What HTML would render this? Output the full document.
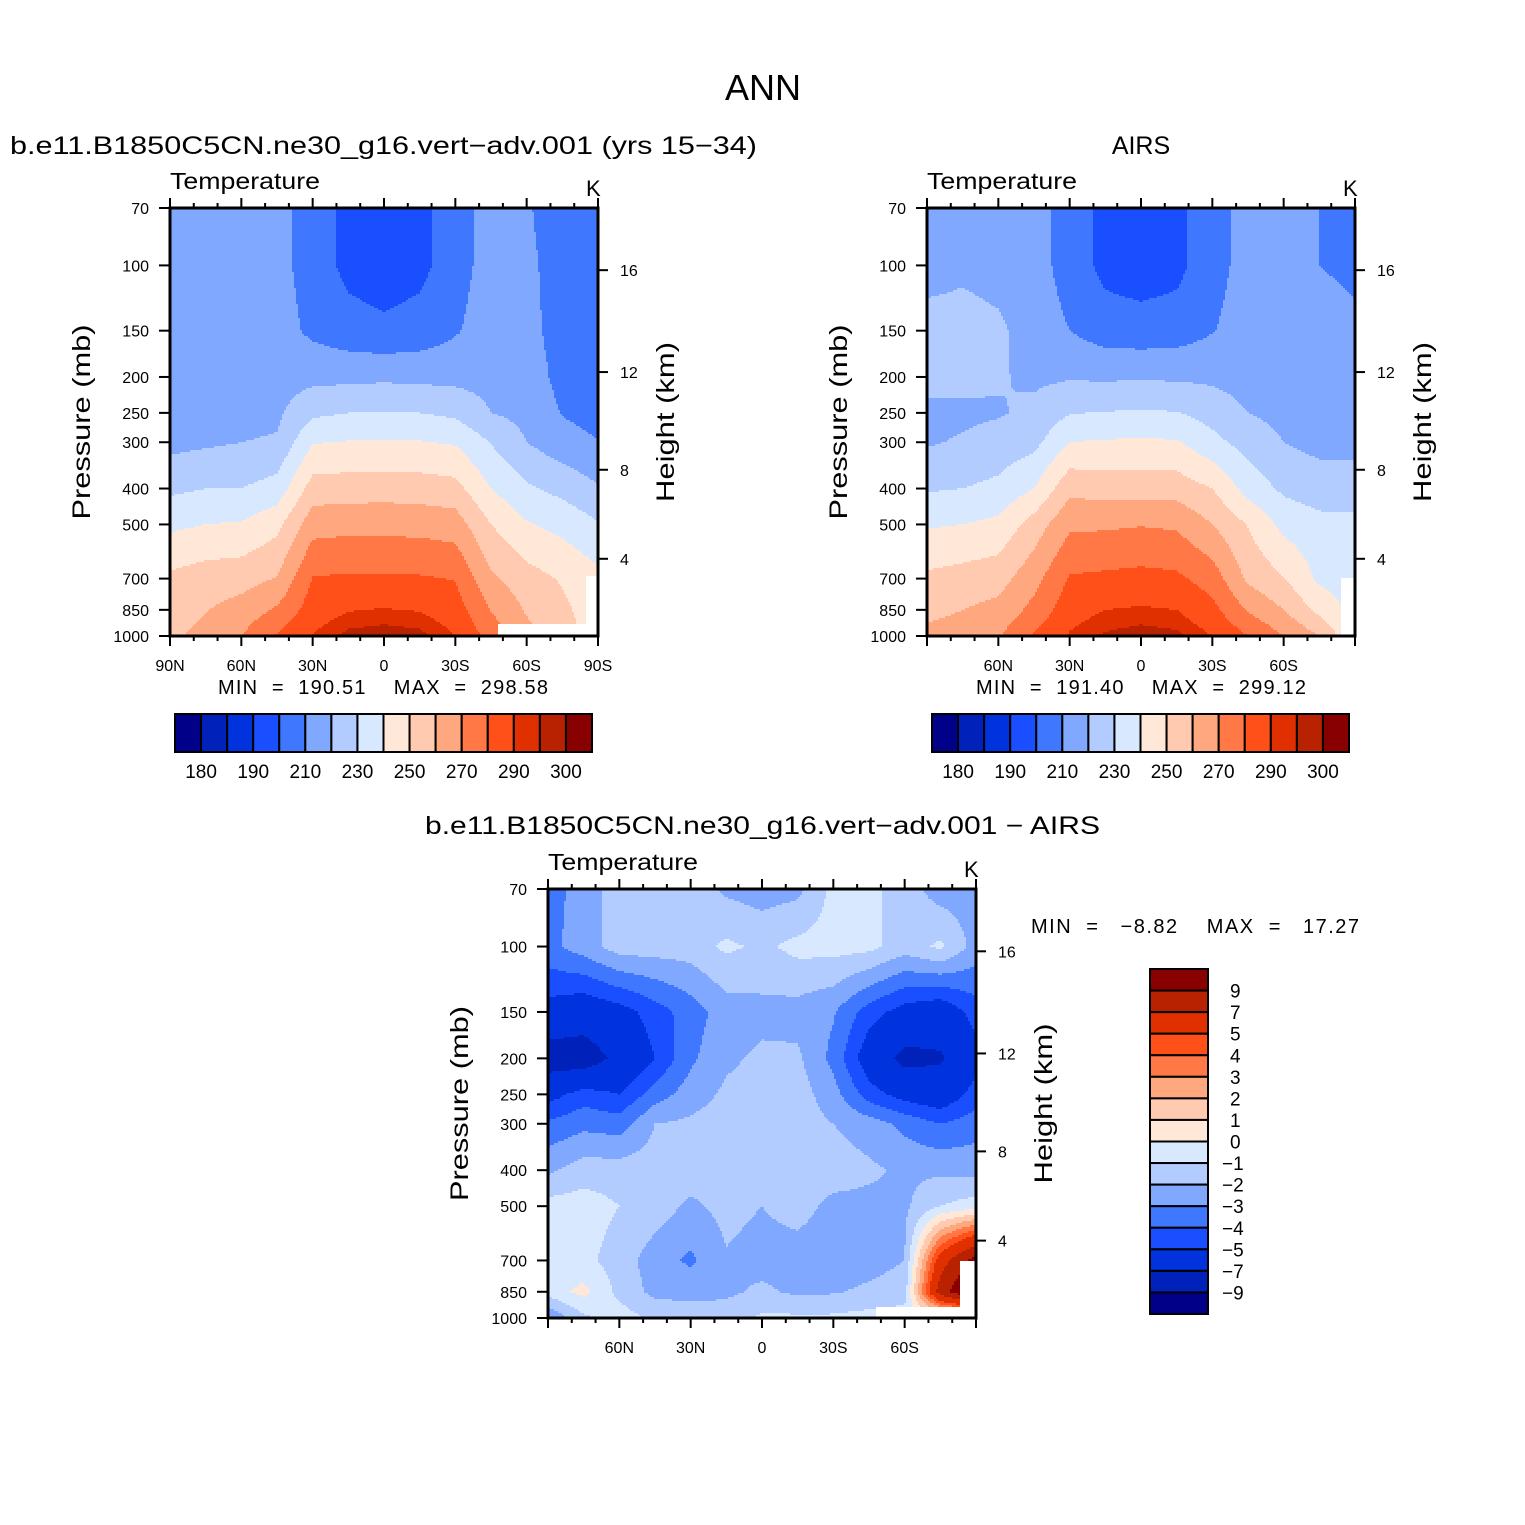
<!DOCTYPE html>
<html><head><meta charset="utf-8"><title>ANN Temperature</title>
<style>
html,body{margin:0;padding:0;background:#fff;}
svg{display:block;font-family:"Liberation Sans",sans-serif;}
.pre{white-space:pre;}
</style></head>
<body>
<svg id="fig" width="1525" height="1525" viewBox="0 0 1525 1525" xmlns="http://www.w3.org/2000/svg">
<rect x="0" y="0" width="1525" height="1525" fill="#fff"/>
<text x="763" y="100" font-size="36" text-anchor="middle">ANN</text>
<text x="10" y="154" font-size="25" textLength="747" lengthAdjust="spacingAndGlyphs">b.e11.B1850C5CN.ne30_g16.vert−adv.001 (yrs 15−34)</text>
<text x="1141" y="154" font-size="25" text-anchor="middle">AIRS</text>
<text x="425" y="834" font-size="25" textLength="675" lengthAdjust="spacingAndGlyphs">b.e11.B1850C5CN.ne30_g16.vert−adv.001 − AIRS</text>
<g id="layer"></g>
</svg>
<script>
const lats = [90,75,60,45,30,15,0,-15,-30,-45,-60,-75,-90];
const levs = [1000,850,700,500,400,300,250,200,150,100,70];
const latTickLabels1 = ["90N","60N","30N","0","30S","60S","90S"];
const latTickLabels2 = ["","60N","30N","0","30S","60S",""];
const presLabels = ["70","100","150","200","250","300","400","500","700","850","1000"];
const presValues = [70,100,150,200,250,300,400,500,700,850,1000];
const heightLabels = ["4","8","12","16"];
const heightP = [619,356,194,103];
const tempLevels = [180,185,190,200,210,220,230,240,250,260,270,280,290,295,300];
const tempLabels = ["180","190","210","230","250","270","290","300"];
const diffLevels = [-9,-7,-5,-4,-3,-2,-1,0,1,2,3,4,5,7,9];
const diffLabels = ["-9","-7","-5","-4","-3","-2","-1","0","1","2","3","4","5","7","9"];
const palette = ["#000088","#0022bb","#0033dd","#1a4fff","#3f78ff","#80a8ff","#b3ccff","#d7e8ff","#ffe8d8","#ffcab0","#ffa77e","#ff7845","#ff501a","#e03000","#b82200","#880000"];

// model temperature: one row per latitude (90N..90S), values at levs (1000..70 mb)
const modelT = [
 [258,255,252,238,228,217,215,214,214,214,215],
 [263,259.5,255,240,230,218.5,216,215,215,214,215],
 [270,264,256,241,230,220,217,215.5,215,215,215],
 [281,271.5,260.5,247,234,221,218,216,214,213,213],
 [290.5,285,280.5,266,254.5,239.5,228,217,208,206,206],
 [297,289.5,281.5,267,255,240.5,230,217.5,204,197,197],
 [298.5,290.5,281,267,255.5,241,230.5,218,202,195,194],
 [297,289.5,281,266.5,255,240.5,230,217.5,204,197,197],
 [290,285,279.5,265,253.5,239,228,217,209,206,206],
 [276,269.5,262,250,240,229.5,220,216.5,215,214,214],
 [263,259,254,241,231.5,220,217,215,213,212,211],
 [254,252,249,237,227,214,209.5,207,206,206,205],
 [246,245,243,231,221,210.5,206,205,205,205,205]
];
const airsT = [
 [262,258,252,239,229,219,218,223,224,216,215],
 [263,260,254,240,230,221,218,223,224,218,216],
 [269,263,256,242.5,232.5,224,219,221,222,216,215],
 [281,273,266.5,254.5,240,227,222.5,218,215,214,214],
 [291,286,281,268,257.5,240,229.5,219,210,206,206],
 [296,290,282,268.5,255.5,241,230.5,218.5,205,197,197],
 [298,291,283,269.5,256,241.5,231,219,204,195,194],
 [296.5,290,282,268.5,255.5,241,230.5,218.5,205,197,197],
 [290,283,275.5,260,250,233,226,218,209.5,207,207],
 [280,269,258,249.5,236,226,220,216,214,213,213],
 [270,260,250.5,237,228,220,217,215,214,213,213],
 [260,247,238,233,225,217,214,213,212,210,210],
 [240,237,234,231.5,227,216,213,212,211,209,206]
];
const diffT = [
 [-3,-0.5,-0.7,-0.6,-2.2,-3.8,-5.5,-8,-5.5,-3.3,-3.5],
 [-1.2,0.3,-0.7,-0.5,-1.5,-3.3,-4.5,-8,-6,-2.5,-2.5],
 [-0.5,-1.3,-1.5,-1.0,-1.5,-3.5,-5,-6.5,-5.5,-1.5,-1.5],
 [-1.2,-2.3,-2.5,-1.5,-1.5,-2,-3.5,-5,-4.5,-1.5,-1.5],
 [-1.5,-2.3,-3.2,-2.2,-1.5,-1.8,-2.5,-3.2,-3.5,-1.5,-1.5],
 [-1.5,-2.2,-2.1,-1.7,-1.5,-1.5,-1.8,-2.2,-2.5,-0.8,-2.2],
 [-0.8,-1.8,-2.4,-2.0,-1.5,-1.5,-1.5,-1.8,-2.3,-1.2,-2.5],
 [-0.8,-2.2,-2.5,-1.6,-1.5,-1.5,-1.5,-1.8,-2.4,-0.7,-2.3],
 [-0.8,-2.1,-2.6,-2.3,-1.5,-2.0,-2.6,-3.3,-2.9,-0.6,-0.7],
 [-0.6,-1.8,-2.4,-2.3,-1.8,-2.5,-4.5,-5.8,-4.5,-0.7,-0.7],
 [-0.5,-1.5,-2.0,-2.2,-2.2,-3.3,-5.5,-7.5,-5.5,-1.5,-1.5],
 [-0.5,8,6,-1,-2.2,-4,-6,-7.2,-6,-0.8,-2.5],
 [-0.5,12,10,-0.5,-2.3,-3.5,-4.5,-5.5,-4.5,-2.4,-2.5]
];
// missing-data regions: [lat from, lat to, pressure from (mb) down to surface]
const mask1 = [[-48,-84.6,928],[-84.6,-90,690]];
const mask2 = [[-84,-90,700]];
const mask3 = [[-48,-83,934],[-83,-90,700]];

const NS = "http://www.w3.org/2000/svg";
const layer = document.getElementById("layer");
function mk(tag, attrs, parent){
  const e = document.createElementNS(NS, tag);
  for (const k in attrs) e.setAttribute(k, attrs[k]);
  (parent||layer).appendChild(e);
  return e;
}
const LN = Math.log(1000/70);
function makeAxes(x0,y0,w,h){
  return {
    x: lat => x0 + (90 - lat) / 180 * w,
    y: p => y0 + h * Math.log(p/70) / LN,
    lat: px => 90 - (px - x0) / w * 180,
    p: py => 70 * Math.exp((py - y0) / h * LN)
  };
}
function sample(field, lat, p){
  let i = 0; while (i < lats.length-2 && lat < lats[i+1]) i++;
  const tl = (lats[i] - lat) / (lats[i] - lats[i+1]);
  const lp = Math.log(p);
  let j = 0; while (j < levs.length-2 && p < levs[j+1]) j++;
  const tp = (Math.log(levs[j]) - lp) / (Math.log(levs[j]) - Math.log(levs[j+1]));
  const a = field[i][j], b = field[i][j+1], c = field[i+1][j], d = field[i+1][j+1];
  return (a*(1-tp)+b*tp)*(1-tl) + (c*(1-tp)+d*tp)*tl;
}
function colorIdx(v, levels){ let k=0; while (k<levels.length && v>=levels[k]) k++; return k; }
function masked(mask, lat, p){
  for (const m of mask){ if (lat <= m[0] && lat >= m[1] && p >= m[2]) return true; }
  return false;
}
function drawPanel(name, x0,y0,w,h, field, levels, mask, latLabels){
  const g = mk("g", {});
  
  
  const ax = makeAxes(x0,y0,w,h);
  const step = 2;
  for (let py = y0; py < y0+h; py += step){
    const p = ax.p(py + step/2);
    let runStart = x0, runCol = null;
    for (let px = x0; px <= x0+w; px += step){
      let col = null;
      if (px < x0+w){
        const lat = ax.lat(px + step/2);
        col = masked(mask, lat, p) ? "#ffffff" : palette[colorIdx(sample(field, lat, p), levels)];
      }
      if (col !== runCol){
        if (runCol !== null){
          const r = mk("rect", {x:runStart, y:py, width:Math.min(px, x0+w)-runStart, height:Math.min(step, y0+h-py), fill:runCol}, g);
          
          
        }
        runStart = px; runCol = col;
      }
    }
  }
  const fr = mk("rect", {x:x0, y:y0, width:w, height:h, fill:"none", stroke:"#000", "stroke-width":3}, g);
  
  
  for (let lat = 90; lat >= -90; lat -= 10){
    const major = lat % 30 === 0;
    const L = major ? 10 : 5;
    const X = ax.x(lat);
    const t1 = mk("line", {x1:X, x2:X, y1:y0+h, y2:y0+h+L, stroke:"#000", "stroke-width":2}, g);
    
    
    const t2 = mk("line", {x1:X, x2:X, y1:y0, y2:y0-L, stroke:"#000", "stroke-width":2}, g);
    
    
  }
  latLabels.forEach((s, k) => {
    if (!s) return;
    const t = mk("text", {x:ax.x(90 - k*30), y:y0+h+35, "font-size":16, "text-anchor":"middle"}, g);
    t.textContent = s;
    
    
  });
  presValues.forEach((p, k) => {
    const Y = ax.y(p);
    const t = mk("line", {x1:x0-11, x2:x0, y1:Y, y2:Y, stroke:"#000", "stroke-width":2}, g);
    
    
    const l = mk("text", {x:x0-21, y:Y+6, "font-size":16, "text-anchor":"end"}, g);
    l.textContent = presLabels[k];
    
    
  });
  heightP.forEach((p, k) => {
    const Y = ax.y(p);
    const t = mk("line", {x1:x0+w, x2:x0+w+10, y1:Y, y2:Y, stroke:"#000", "stroke-width":2}, g);
    
    
    const l = mk("text", {x:x0+w+22, y:Y+6, "font-size":16}, g);
    l.textContent = heightLabels[k];
    
    
  });
  const tt = mk("text", {x:x0, y:y0-19, "font-size":23, textLength:150, lengthAdjust:"spacingAndGlyphs"}, g);
  tt.textContent = "Temperature";
  
  
  const kk = mk("text", {x:x0+w-12, y:y0-12, "font-size":22}, g);
  kk.textContent = "K";
  
  
  const pt = mk("text", {x:0, y:0, "font-size":25, "text-anchor":"middle", textLength:195, lengthAdjust:"spacingAndGlyphs", transform:`translate(${x0-80},${y0+h/2}) rotate(-90)`}, g);
  pt.textContent = "Pressure (mb)";
  
  
  const ht = mk("text", {x:0, y:0, "font-size":25, "text-anchor":"middle", textLength:160, lengthAdjust:"spacingAndGlyphs", transform:`translate(${x0+w+76},${y0+h/2}) rotate(-90)`}, g);
  ht.textContent = "Height (km)";
  
  
  return g;
}
function hColorbar(name, x0, y0, w, h, labels){
  const g = mk("g", {});
  
  
  const bw = w / palette.length;
  palette.forEach((c, k) => {
    const r = mk("rect", {x:x0+k*bw, y:y0, width:bw, height:h, fill:c, stroke:"#000", "stroke-width":2}, g);
    
    
  });
  labels.forEach((s, k) => {
    const t = mk("text", {x:x0+(1+2*k)*bw, y:y0+h+26, "font-size":19, "text-anchor":"middle"}, g);
    t.textContent = s;
    
    
  });
}
function vColorbar(name, x0, y0, w, h, labels){
  const g = mk("g", {});
  
  
  const bh = h / palette.length;
  palette.slice().reverse().forEach((c, k) => {
    const r = mk("rect", {x:x0, y:y0+k*bh, width:w, height:bh, fill:c, stroke:"#000", "stroke-width":2}, g);
    
    
  });
  labels.slice().reverse().forEach((s, k) => {
    const t = mk("text", {x:x0+w+(s.startsWith("-")?14:22), y:y0+(k+1)*bh+7, "font-size":19}, g);
    t.textContent = s.replace("-", "−");
    
    
  });
}
function label(txt, x, y, size, name, len){
  const t = mk("text", {x:x, y:y, "font-size":size, "class":"pre", textLength:len, lengthAdjust:"spacing"});
  t.textContent = txt;
  
  
  return t;
}

drawPanel("model", 170, 208, 428, 428, modelT, tempLevels, mask1, latTickLabels1);
drawPanel("airs", 927, 208, 428, 428, airsT, tempLevels, mask2, latTickLabels2);
drawPanel("diff", 548, 889, 428, 429, diffT, diffLevels, mask3, latTickLabels2);
label("MIN  =  190.51    MAX  =  298.58", 218, 694, 20, "model-min-max", 330);
label("MIN  =  191.40    MAX  =  299.12", 976, 694, 20, "airs-min-max", 330);
label("MIN  =   −8.82    MAX  =   17.27", 1031, 933, 20, "diff-min-max", 328);
hColorbar("model-colorbar", 175, 714, 417, 38, tempLabels);
hColorbar("airs-colorbar", 932, 714, 417, 38, tempLabels);
vColorbar("diff-colorbar", 1150, 969, 58, 345, diffLabels);
</script>
</body></html>
